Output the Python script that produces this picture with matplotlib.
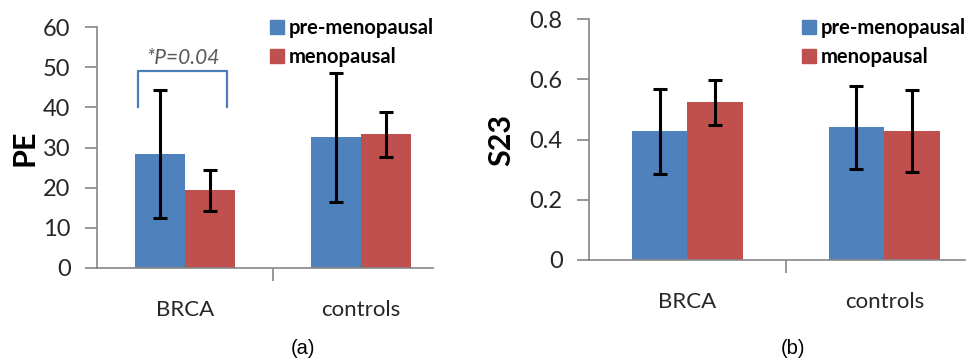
import matplotlib.pyplot as plt
from matplotlib.patches import Patch
import numpy as np

# data
groups = ['BRCA', 'controls']
series = ['pre-menopausal', 'menopausal']
pe_pre = [28.3, 32.5]
pe_pre_err = [15.9, 16.0]
pe_meno = [19.3, 33.3]
pe_meno_err = [5.0, 5.6]
s23_pre = [0.428, 0.440]
s23_pre_err = [0.141, 0.139]
s23_meno = [0.523, 0.428]
s23_meno_err = [0.075, 0.137]
pe_ticks = [0, 10, 20, 30, 40, 50, 60]
s23_ticks = [0, 0.2, 0.4, 0.6, 0.8]
s23_ticklabels = ['0', '0.2', '0.4', '0.6', '0.8']

blue = '#4F81BD'
red = '#C0504D'
axis_gray = '#868686'
txt = '#262626'

plt.rcParams['font.family'] = ['Lato', 'DejaVu Sans']

fig = plt.figure(figsize=(9.66, 3.58), dpi=100)
ax1 = fig.add_axes([97 / 966, 90 / 358, 336 / 966, 241 / 358])
ax2 = fig.add_axes([589 / 966, 98 / 358, 376 / 966, 241 / 358])

x = np.arange(len(groups))
w = 0.283
ekw = dict(elinewidth=2.2, capthick=2.2, ecolor='black')


def draw(ax, pre, pre_err, meno, meno_err):
    ax.bar(x - w / 2, pre, w, yerr=pre_err, color=blue, capsize=5, error_kw=ekw, zorder=2)
    ax.bar(x + w / 2, meno, w, yerr=meno_err, color=red, capsize=5, error_kw=ekw, zorder=2)
    ax.set_xlim(-0.5, 1.41)
    ax.spines['top'].set_visible(False)
    ax.spines['right'].set_visible(False)
    for s in ['left', 'bottom']:
        ax.spines[s].set_color(axis_gray)
        ax.spines[s].set_linewidth(1.2)
    ax.set_xticks([0.5])
    ax.set_xticklabels([])
    ax.tick_params(axis='x', length=9, width=1.2, color=axis_gray)
    ax.tick_params(axis='y', length=9, width=1.2, color=axis_gray,
                   labelsize=17, labelcolor=txt, pad=10)
    # category names (minor ticks so the major boundary tick stays unlabelled)
    ax.set_xticks(x, minor=True)
    ax.set_xticklabels(groups, minor=True, fontsize=16, color=txt)
    ax.tick_params(axis='x', which='minor', length=0, pad=23)


draw(ax1, pe_pre, pe_pre_err, pe_meno, pe_meno_err)
ax1.set_ylim(0, 60)
ax1.set_yticks(pe_ticks)
ax1.set_ylabel('PE', fontsize=22, fontweight='bold', color='black', labelpad=3)

draw(ax2, s23_pre, s23_pre_err, s23_meno, s23_meno_err)
ax2.set_ylim(0, 0.8)
ax2.set_yticks(s23_ticks)
ax2.set_yticklabels(s23_ticklabels)
ax2.set_ylabel('S23', fontsize=22, fontweight='bold', color='black', labelpad=10)

# significance bracket
ax1.plot([-0.268, -0.268, 0.240, 0.240], [40.2, 49, 49, 40.2], color='#4A7EBB', lw=1.6)
ax1.text(-0.014, 52.2, '*P=0.04', ha='center', va='center', fontsize=15,
         style='italic', color='#595959')

handles = [Patch(color=blue, label=series[0]), Patch(color=red, label=series[1])]
for lx in [270 / 966, 802 / 966]:
    fig.legend(handles=handles, loc='upper left', bbox_to_anchor=(lx, 1 - 18 / 358),
               frameon=False, borderpad=0, borderaxespad=0, handlelength=0.7,
               handleheight=0.7, handletextpad=0.25, labelspacing=0.45,
               prop=dict(family='Lato', weight='bold', size=14.5))

fig.text(303 / 966, 1 - 348 / 358, '(a)', ha='center', va='center',
         fontsize=14.5, family='Liberation Sans')
fig.text(793 / 966, 1 - 348 / 358, '(b)', ha='center', va='center',
         fontsize=14.5, family='Liberation Sans')

fig.savefig('out.png', dpi=100)
